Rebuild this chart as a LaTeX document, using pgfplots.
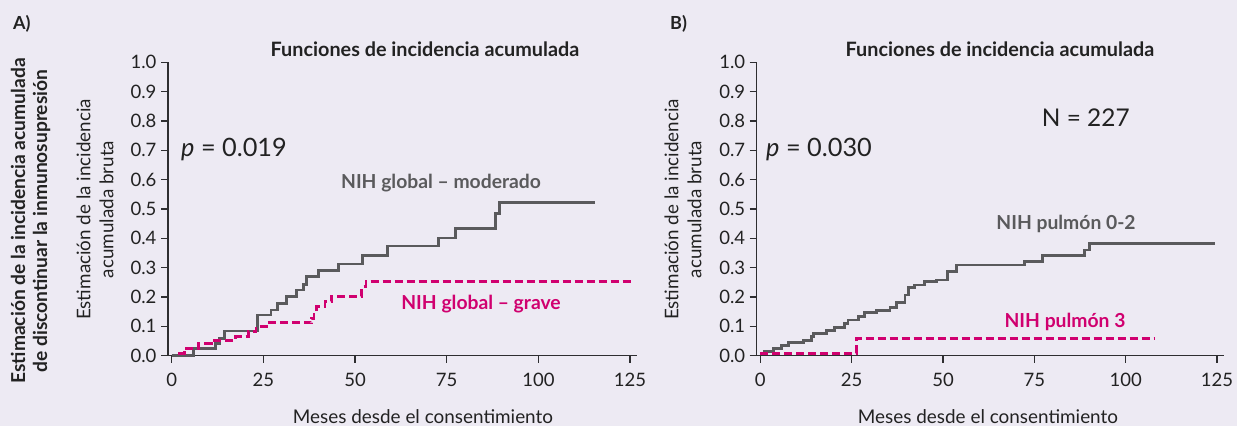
\documentclass[border=0pt]{standalone}
\usepackage{pgfplots}
\pgfplotsset{compat=1.18}
\usepackage{fontspec}
\setmainfont{Lato}
\definecolor{bg}{HTML}{EDEAF3}
\definecolor{grayl}{HTML}{5A5A5C}
\definecolor{pinkl}{HTML}{D0006F}
\definecolor{axisc}{HTML}{2E2E30}
\definecolor{txt}{HTML}{222222}
\begin{document}
\begin{tikzpicture}[x=1pt,y=1pt]
\fill[bg] (0pt,0pt) rectangle (1237pt,426pt);
\pgfplotsset{km/.style={
  scale only axis, width=469.4pt, height=293.4pt,
  xmin=-1, xmax=127, ymin=0, ymax=1,
  axis x line*=bottom, axis y line*=left,
  axis line style={line width=1.5pt, axisc},
  tick style={line width=1.3pt, axisc},
  tick align=outside, major tick length=7pt,
  xtick={0,25,50,75,100,125},
  xticklabels={0,25,50,75,100,125},
  ytick={0,0.1,0.2,0.3,0.4,0.5,0.6,0.7,0.8,0.9,1},
  yticklabels={0.0,0.1,0.2,0.3,0.4,0.5,0.6,0.7,0.8,0.9,1.0},
  /pgf/number format/assume math mode=true,
  ticklabel style={font=\fontsize{18.5}{20}\selectfont, text=txt},
  xticklabel style={yshift=-7pt},
  yticklabel style={xshift=-1pt},
  clip=false,
}}
\begin{axis}[km, at={(168pt,70.3pt)}, anchor=south west]
\addplot[const plot, grayl, line width=2.8pt] coordinates {
(0,0) (5.9,0.025) (11.9,0.042) (13.0,0.059) (14.4,0.084) (23.4,0.139) (27.1,0.156) (28.9,0.178) (31.4,0.203) (34.1,0.224) (35.9,0.244) (36.8,0.269) (40.0,0.290) (45.4,0.3125) (52.1,0.342) (58.9,0.374) (72.7,0.401) (77.5,0.434) (88.2,0.485) (89.5,0.523) (115.4,0.523)};
\addplot[const plot, pinkl, line width=2.8pt, dash pattern=on 8pt off 4pt] coordinates {
(1.8,0.008) (3.4,0.025) (7.4,0.042) (10.8,0.053) (17.4,0.065) (20.9,0.082) (23.0,0.099) (26.2,0.112) (38.2,0.127) (38.8,0.15) (39.4,0.167) (41.8,0.184) (43.6,0.203) (51.8,0.235) (53.0,0.252) (125.4,0.252)};
\end{axis}
\begin{axis}[km, at={(756.7pt,70.3pt)}, anchor=south west, width=467.6pt]
\addplot[const plot, grayl, line width=2.8pt] coordinates {
(0.5,0.006) (1.2,0.0136) (3.5,0.025) (5.8,0.034) (7.6,0.044) (11.7,0.053) (14.0,0.065) (14.5,0.076) (18.1,0.085) (20.4,0.097) (23.1,0.11) (24.0,0.122) (26.8,0.133) (28.6,0.147) (31.8,0.153) (35.5,0.165) (37.3,0.181) (39.6,0.207) (40.5,0.233) (42.3,0.241) (45.0,0.252) (48.2,0.258) (51.2,0.2875) (53.7,0.309) (72.4,0.32) (77.2,0.341) (88.8,0.36) (90.0,0.383) (124.4,0.383)};
\addplot[const plot, pinkl, line width=2.8pt, dash pattern=on 8pt off 4pt] coordinates {
(0,0.008) (26.3,0.058) (107.7,0.058)};
\end{axis}
\begin{scope}[every node/.style={inner sep=0pt, text=txt}]
\node[anchor=base west, font=\bfseries\fontsize{18}{20}\selectfont] at (13pt,396pt) {A)};
\node[anchor=base west, font=\bfseries\fontsize{18}{20}\selectfont] at (670pt,396pt) {B)};
\node[anchor=base, font=\bfseries\fontsize{19.8}{22}\selectfont] at (425pt,369pt) {Funciones de incidencia acumulada};
\node[anchor=base, font=\bfseries\fontsize{19.8}{22}\selectfont] at (1000pt,369pt) {Funciones de incidencia acumulada};
\node[anchor=base, font=\fontsize{18.9}{20}\selectfont] at (423pt,2.7pt) {Meses desde el consentimiento};
\node[anchor=base, font=\fontsize{18.9}{20}\selectfont] at (988pt,2.7pt) {Meses desde el consentimiento};
\node[rotate=90, align=center, font=\fontsize{18.8}{23}\selectfont] at (95pt,216.5pt) {Estimación de la incidencia\\acumulada bruta};
\node[rotate=90, align=center, font=\fontsize{18.8}{23}\selectfont] at (683pt,216.5pt) {Estimación de la incidencia\\acumulada bruta};
\node[rotate=90, align=center, font=\bfseries\fontsize{19.2}{22}\selectfont] at (30.5pt,205pt) {Estimación de la incidencia acumulada\\de discontinuar la inmunosupresión};
\node[anchor=base west, font=\fontsize{25.3}{30}\selectfont] at (181pt,269pt) {\textit{p} = 0.019};
\node[anchor=base west, font=\fontsize{25.3}{30}\selectfont] at (766pt,269pt) {\textit{p} = 0.030};
\node[anchor=base west, font=\fontsize{24.4}{30}\selectfont] at (1041.7pt,299pt) {N = 227};
\node[anchor=base, text=grayl, font=\bfseries\fontsize{19.3}{20}\selectfont] at (441pt,237pt) {NIH global – moderado};
\node[anchor=base, text=pinkl, font=\bfseries\fontsize{19.3}{20}\selectfont] at (481pt,116.7pt) {NIH global – grave};
\node[anchor=base, text=grayl, font=\bfseries\fontsize{19.3}{20}\selectfont] at (1066pt,196pt) {NIH pulmón 0-2};
\node[anchor=base, text=pinkl, font=\bfseries\fontsize{19.3}{20}\selectfont] at (1065pt,98.3pt) {NIH pulmón 3};
\end{scope}
\pgfresetboundingbox
\useasboundingbox (0pt,0pt) rectangle (1237pt,426pt);
\end{tikzpicture}
\end{document}
